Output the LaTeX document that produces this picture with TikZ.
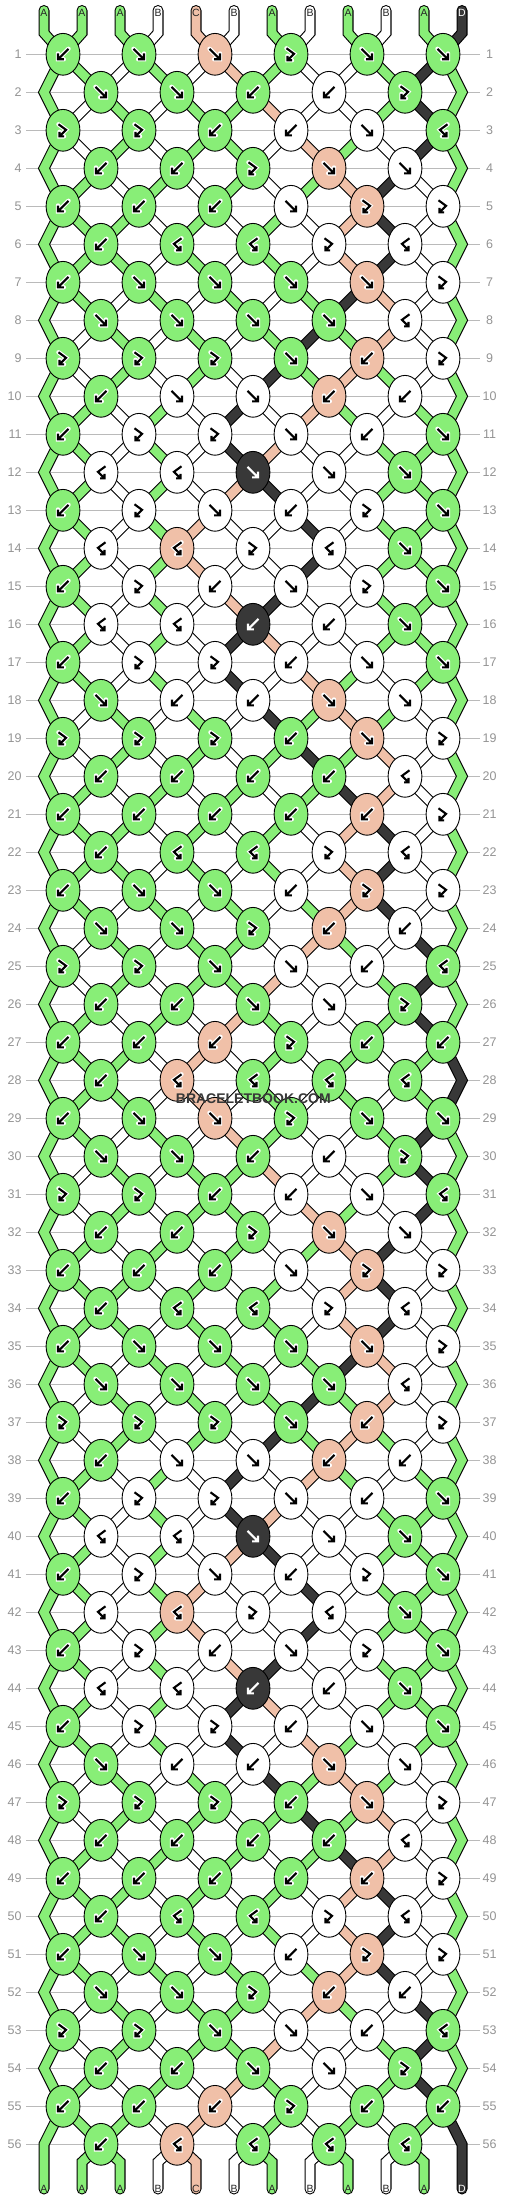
\documentclass[tikz,border=0pt]{standalone}
\usepackage{fontspec}
\setmainfont{Liberation Sans}
\usetikzlibrary{shapes.geometric}
\definecolor{colA}{HTML}{88EE77}
\definecolor{colB}{HTML}{FFFFFF}
\definecolor{colC}{HTML}{F0C0A8}
\definecolor{colD}{HTML}{383838}
\colorlet{inkA}{black}\colorlet{inkB}{black}\colorlet{inkC}{black}\colorlet{inkD}{white}
\colorlet{haloA}{white}\colorlet{haloB}{white}\colorlet{haloC}{white}\colorlet{haloD}{colD}
\colorlet{txtA}{black!85}\colorlet{txtB}{black!85}\colorlet{txtC}{black!85}\colorlet{txtD}{white}
\def\stateslist{%
{A,A,A,B,C,B,A,B,A,B,A,D},{A,A,B,A,B,C,A,B,B,A,D,A},{A,B,A,B,A,A,C,B,B,A,D,A},{A,B,A,B,A,A,B,C,A,B,D,A},
{A,A,B,A,B,A,B,A,C,D,B,A},{A,A,A,B,A,B,A,B,C,D,B,A},{A,A,A,B,A,B,A,B,C,D,B,A},{A,A,B,A,B,A,B,A,D,C,B,A},
{A,B,A,B,A,B,A,D,A,C,B,A},{A,B,A,B,A,B,D,A,C,A,B,A},{A,A,B,A,B,D,B,C,A,B,A,A},{A,A,B,A,B,D,C,B,B,A,A,A},
{A,A,B,A,B,C,D,B,B,A,A,A},{A,A,B,A,C,B,B,D,B,A,A,A},{A,A,B,A,C,B,B,D,B,A,A,A},{A,A,B,A,B,C,D,B,B,A,A,A},
{A,A,B,A,B,D,C,B,B,A,A,A},{A,A,B,A,B,D,B,C,A,B,A,A},{A,B,A,B,A,B,D,A,C,A,B,A},{A,B,A,B,A,B,A,D,A,C,B,A},
{A,A,B,A,B,A,B,A,D,C,B,A},{A,A,A,B,A,B,A,B,C,D,B,A},{A,A,A,B,A,B,A,B,C,D,B,A},{A,A,B,A,B,A,B,A,C,D,B,A},
{A,B,A,B,A,A,B,C,A,B,D,A},{A,B,A,B,A,A,C,B,B,A,D,A},{A,A,B,A,B,C,A,B,B,A,D,A},{A,A,A,B,C,B,A,B,A,B,A,D},
{A,A,A,B,C,B,A,B,A,B,A,D},{A,A,B,A,B,C,A,B,B,A,D,A},{A,B,A,B,A,A,C,B,B,A,D,A},{A,B,A,B,A,A,B,C,A,B,D,A},
{A,A,B,A,B,A,B,A,C,D,B,A},{A,A,A,B,A,B,A,B,C,D,B,A},{A,A,A,B,A,B,A,B,C,D,B,A},{A,A,B,A,B,A,B,A,D,C,B,A},
{A,B,A,B,A,B,A,D,A,C,B,A},{A,B,A,B,A,B,D,A,C,A,B,A},{A,A,B,A,B,D,B,C,A,B,A,A},{A,A,B,A,B,D,C,B,B,A,A,A},
{A,A,B,A,B,C,D,B,B,A,A,A},{A,A,B,A,C,B,B,D,B,A,A,A},{A,A,B,A,C,B,B,D,B,A,A,A},{A,A,B,A,B,C,D,B,B,A,A,A},
{A,A,B,A,B,D,C,B,B,A,A,A},{A,A,B,A,B,D,B,C,A,B,A,A},{A,B,A,B,A,B,D,A,C,A,B,A},{A,B,A,B,A,B,A,D,A,C,B,A},
{A,A,B,A,B,A,B,A,D,C,B,A},{A,A,A,B,A,B,A,B,C,D,B,A},{A,A,A,B,A,B,A,B,C,D,B,A},{A,A,B,A,B,A,B,A,C,D,B,A},
{A,B,A,B,A,A,B,C,A,B,D,A},{A,B,A,B,A,A,C,B,B,A,D,A},{A,A,B,A,B,C,A,B,B,A,D,A},{A,A,A,B,C,B,A,B,A,B,A,D},
{A,A,A,B,C,B,A,B,A,B,A,D}}
\def\knotlist{%
{b/A,f/A,f/C,fb/A,f/A,f/A},{f/A,f/A,b/A,b/B,fb/A},{fb/A,fb/A,b/A,b/B,f/B,bf/A},{b/A,b/A,fb/A,f/C,f/B},
{b/A,b/A,b/A,f/B,fb/C,fb/B},{b/A,bf/A,bf/A,fb/B,bf/B},{b/A,f/A,f/A,f/A,f/C,fb/B},{f/A,f/A,f/A,f/A,bf/B},
{fb/A,fb/A,fb/A,f/A,b/C,fb/B},{b/A,f/B,f/B,b/C,b/B},{b/A,fb/B,fb/B,f/B,b/B,f/A},{bf/B,bf/B,f/D,f/B,f/A},
{b/A,fb/B,f/B,b/B,fb/B,f/A},{bf/B,bf/C,fb/B,bf/B,f/A},{b/A,fb/B,b/B,f/B,fb/B,f/A},{bf/B,bf/B,b/D,b/B,f/A},
{b/A,fb/B,fb/B,b/B,f/B,f/A},{f/A,b/B,b/B,f/C,f/B},{fb/A,fb/A,fb/A,b/A,f/C,fb/B},{b/A,b/A,b/A,b/A,bf/B},
{b/A,b/A,b/A,b/A,b/C,fb/B},{b/A,bf/A,bf/A,fb/B,bf/B},{b/A,f/A,f/A,b/B,fb/C,fb/B},{f/A,f/A,fb/A,b/C,b/B},
{fb/A,fb/A,f/A,f/B,b/B,bf/A},{b/A,b/A,f/A,f/B,fb/A},{b/A,b/A,b/C,fb/A,b/A,b/A},{b/A,bf/C,bf/A,bf/A,bf/A}}
\newcommand\drawstrings[1]{%
\foreach \st [count=\rr from 0] in \stateslist {%
 \foreach \cc [count=\pp] in \st {%
  \pgfmathtruncatemacro\isedge{((\pp==1)||(\pp==12)) ? 1 : 0}%
  \pgfmathtruncatemacro\isodd{mod(\rr,2)}%
  \ifnum\rr=0\relax
    \draw[#1=\cc,line cap=round] ({xs(\pp)},10.5) -- ({xs(\pp)},33) -- ({xs(\pp)+19*sg(1,\pp)},{yr(1)});
  \else
    \ifnum\isedge=1\relax
      \ifnum\isodd=1\relax
        \ifnum\rr=55\relax
          \draw[#1=\cc,line cap=round] ({xs(\pp)+19*sg(55,\pp)},{yr(55)}) -- ({xs(\pp)},{yr(56)}) -- ({xs(\pp)},2189);
        \else
          \draw[#1=\cc] ({xs(\pp)+19*sg(\rr,\pp)},{yr(\rr)}) -- ({xs(\pp)},{yr(\rr+1)}) -- ({xs(\pp)+19*sg(\rr+2,\pp)},{yr(\rr+2)});
        \fi
      \fi
    \else
      \ifnum\rr=56\relax
        \draw[#1=\cc,line cap=round] ({xs(\pp)+19*sg(56,\pp)},{yr(56)}) -- ({xs(\pp)},2162) -- ({xs(\pp)},2189);
      \else
        \draw[#1=\cc] ({xs(\pp)+19*sg(\rr,\pp)},{yr(\rr)}) -- ({xs(\pp)+19*sg(\rr+1,\pp)},{yr(\rr+1)});
      \fi
    \fi
  \fi
 }%
}}
\begin{document}
\begin{tikzpicture}[x=1pt,y=-1pt,
  declare function={xs(\x)=6+38*\x; yr(\x)=16.3+38*\x;
    sg(\x,\y)=((mod(\x,2)==0)&&((\y==1)||(\y==12))) ? 0 : ((mod(\x+\y,2)==0) ? 1 : -1);},
  segout/.style={draw=black,line width=11},
  segin/.style={draw=col#1,line width=8.8},
  knot/.style={ellipse,draw=black,line width=0.9,minimum width=33.8,minimum height=41.8,inner sep=0,outer sep=0},
  gridl/.style={draw=black!27,line width=0.9},
  rowlab/.style={text=black!42,font=\fontsize{12.5}{14}\selectfont,inner sep=0},
  strlab/.style={font=\fontsize{10.5}{12}\selectfont,inner sep=0},
  gf/.pic={\draw[pic actions] (-5.5,-5.5) -- (5,5) (5,-0.8) -- (5,5) -- (-0.8,5);},
  gb/.pic={\draw[pic actions] (5.5,-5.5) -- (-5,5) (-5,-0.8) -- (-5,5) -- (0.8,5);},
  gfb/.pic={\draw[pic actions] (-4.5,-6) -- (3,-0.5) -- (-3.5,6) (-3.5,1.5) -- (-3.5,6) -- (1,6);},
  gbf/.pic={\draw[pic actions] (4.5,-6) -- (-3,-0.5) -- (3.5,6) (3.5,1.5) -- (3.5,6) -- (-1,6);}
]
\useasboundingbox (0,0) rectangle (506,2200);
\fill[white] (0,0) rectangle (506,2200);
% grid lines and row numbers
\foreach \r in {1,...,56}{
  \draw[gridl] (26,{yr(\r)}) -- (480,{yr(\r)});
  \node[rowlab,anchor=east] (ll\r) at (21.8,{yr(\r)}) {\r};
  \node[rowlab] (rl\r) at (489.5,{yr(\r)}) {\r};
}
% strings
\drawstrings{segout}
\drawstrings{segin}
% knots
\foreach \rep in {0,1}{
 \foreach \kr [count=\rl] in \knotlist {
  \pgfmathtruncatemacro\rg{\rl+28*\rep}
  \pgfmathtruncatemacro\od{mod(\rg,2)}
  \pgfmathsetmacro\ky{16.3+38*\rg}
  \foreach \ty/\cc [count=\kk] in \kr {
    \pgfmathsetmacro\kx{\od==1 ? -13+76*\kk : 25+76*\kk}
    \node[knot,fill=col\cc] (k\rg-\kk) at (\kx,\ky) {};
    \edef\tmp{\noexpand\pic[draw=halo\cc,line width=4.4,line cap=round] at (\kx,\ky) {g\ty};
      \noexpand\pic[draw=ink\cc,line width=2.1] at (\kx,\ky) {g\ty};}
    \tmp
  }
 }
}
% string labels
\foreach \cc [count=\pp] in {A,A,A,B,C,B,A,B,A,B,A,D}{
  \node[strlab,text=txt\cc] (top\pp) at ({xs(\pp)},12.5) {\cc};
  \node[strlab,text=txt\cc] (bot\pp) at ({xs(\pp)},2188.5) {\cc};
}
\node[font=\bfseries\fontsize{14}{16}\selectfont,text=black!78,inner sep=0] (wm) at (253.3,1099) {BRACELETBOOK.COM};
\end{tikzpicture}
\end{document}
